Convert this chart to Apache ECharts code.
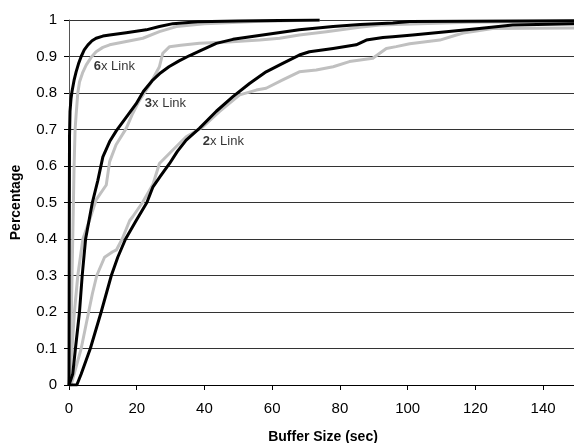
<!DOCTYPE html>
<html>
<head>
<meta charset="utf-8">
<script src="https://cdn.jsdelivr.net/npm/echarts@6/dist/echarts.min.js"></script>
<style>
html,body{margin:0;padding:0;background:#fff;}
#chart{width:574px;height:443px;}
</style>
</head>
<body>
<div id="chart"></div>
<script>
// Buffer size (sec) vs cumulative percentage
const black6x = [[0,0],[0.05,0.25],[0.1,0.5],[0.15,0.68],[0.3,0.75],[0.6,0.785],[0.9,0.805],[1.5,0.835],[2.1,0.858],[2.8,0.88],[3.6,0.90],[4.5,0.918],[5.6,0.932],[6.8,0.943],[8,0.95],[10,0.956],[12,0.959],[16.9,0.965],[22.8,0.973],[26.7,0.982],[30.7,0.99],[38,0.995],[50,0.997],[74,1.0]];
const gray6x = [[0,0],[0.3,0.05],[0.6,0.15],[0.9,0.3],[1.2,0.45],[1.5,0.6],[1.8,0.7],[2.1,0.74],[2.6,0.8],[3.1,0.83],[4,0.855],[5.1,0.877],[6.5,0.897],[8,0.913],[10,0.925],[12,0.932],[16.9,0.941],[21.8,0.95],[26.7,0.968],[31.7,0.982],[40,0.99],[55,0.996],[74,1.0]];
const black3x = [[0,0],[0.2,0],[1.1,0.03],[1.9,0.1],[3.1,0.2],[3.9,0.3],[4.9,0.4],[6.9,0.5],[8.5,0.56],[10,0.625],[12,0.667],[14,0.697],[15.9,0.721],[17.8,0.745],[19.8,0.77],[22,0.805],[24.5,0.833],[27,0.855],[29.5,0.872],[32.5,0.888],[35.5,0.902],[38.5,0.915],[43.5,0.936],[48.4,0.947],[58.2,0.96],[68,0.973],[78,0.982],[86,0.988],[95.6,0.992],[100.6,0.996],[150,0.998]];
const gray3x = [[0,0],[0.9,0.1],[1.6,0.2],[2.6,0.3],[4.1,0.4],[6,0.45],[8,0.507],[11,0.548],[12,0.612],[13.9,0.658],[16.9,0.703],[18.8,0.744],[20.8,0.78],[23.8,0.822],[26.7,0.872],[27.7,0.909],[29.7,0.927],[33,0.931],[38.5,0.936],[47,0.94],[56.3,0.945],[62.2,0.95],[68,0.959],[76,0.968],[85.8,0.98],[91.8,0.986],[118,0.994],[150,0.997]];
const black2x = [[0,0],[2.3,0],[3.6,0.03],[6.3,0.1],[9.5,0.2],[12.5,0.3],[14.4,0.35],[16.7,0.4],[19.8,0.45],[23,0.5],[24.8,0.543],[27.2,0.575],[29.7,0.607],[32,0.64],[34.6,0.671],[38.5,0.703],[43.5,0.75],[48.4,0.79],[53.3,0.826],[58.2,0.858],[63.1,0.881],[68,0.904],[71,0.913],[78,0.922],[84.8,0.932],[87.8,0.945],[92.7,0.952],[95.6,0.954],[101.5,0.959],[111.4,0.968],[121.2,0.977],[131,0.986],[150,0.99]];
const gray2x = [[0,0],[0.6,0],[2.1,0.05],[3.6,0.1],[5.8,0.2],[6.9,0.25],[8.2,0.3],[10.5,0.35],[12.9,0.365],[14,0.37],[15.7,0.4],[17.9,0.45],[18.8,0.461],[21.7,0.5],[24.8,0.55],[26.7,0.607],[29.7,0.635],[34.6,0.68],[39.5,0.707],[44.4,0.749],[50.4,0.795],[55.3,0.808],[58.2,0.813],[63.1,0.836],[68,0.858],[73,0.863],[78,0.872],[82.8,0.886],[89.7,0.895],[93.7,0.922],[96.6,0.927],[100.6,0.935],[109.5,0.945],[114.4,0.959],[116.4,0.964],[125.1,0.977],[150,0.978]];

const labelNames = ['6', '3', '2'];
const labelAnchors = [[7.3,0.874],[22.4,0.772],[39.5,0.668]];

const xTicks = [0,20,40,60,80,100,120,140];
const FONT = 'Liberation Sans, Arial, sans-serif';

const chart = echarts.init(document.getElementById('chart'), null, {renderer:'canvas'});

function line(data, color){
  return {type:'line', data:data, showSymbol:false, symbol:'none', smooth:false,
    lineStyle:{color:color, width:3, join:'round'}, z:color==='#000000'?3:2, silent:true, animation:false, clip:true};
}

const option = {
  animation:false,
  backgroundColor:'#ffffff',
  grid:{left:69, top:20, width:508, height:365, containLabel:false, outerBoundsMode:'none'},
  xAxis:{
    type:'value', min:0, max:150, interval:20,
    name:'Buffer Size (sec)', nameLocation:'middle', nameGap:45,
    nameTextStyle:{fontFamily:FONT, fontWeight:'bold', fontSize:14, color:'#000'},
    axisLine:{show:true, lineStyle:{color:'#000', width:1}},
    axisTick:{show:true, length:5, lineStyle:{color:'#000'}},
    axisLabel:{fontFamily:FONT, fontSize:15, color:'#000', margin:16, showMaxLabel:false,
      formatter:function(v){ return xTicks.indexOf(v)>=0 ? String(v) : ''; }},
    splitLine:{show:false}
  },
  yAxis:{
    type:'value', min:0, max:1, interval:0.1,
    name:'Percentage', nameLocation:'middle', nameGap:46,
    nameTextStyle:{fontFamily:FONT, fontWeight:'bold', fontSize:14, color:'#000'},
    axisLine:{show:true, lineStyle:{color:'#555', width:1}},
    axisTick:{show:true, length:5, lineStyle:{color:'#000'}},
    axisLabel:{fontFamily:FONT, fontSize:15, color:'#000', margin:12,
      formatter:function(v){ return String(Math.round(v*10)/10); }},
    splitLine:{show:true, lineStyle:{color:'#333', width:1}}
  },
  series:[
    line(gray6x,'#c0c0c0'),
    line(gray3x,'#c0c0c0'),
    line(gray2x,'#c0c0c0'),
    line(black6x,'#000000'),
    line(black3x,'#000000'),
    line(black2x,'#000000'),
    {
      type:'scatter', symbolSize:0, silent:true, z:5,
      data: labelAnchors.map(function(p,i){ return {value:p, name:labelNames[i]}; }),
      label:{show:true, position:'right', distance:0,
        formatter:function(p){ return '{b|'+p.name+'}x Link'; },
        fontFamily:FONT, fontSize:13, color:'#000',
        rich:{b:{fontFamily:FONT, fontSize:13, fontWeight:'bold', color:'#000'}}}
    }
  ]
};
chart.setOption(option);
</script>
</body>
</html>
